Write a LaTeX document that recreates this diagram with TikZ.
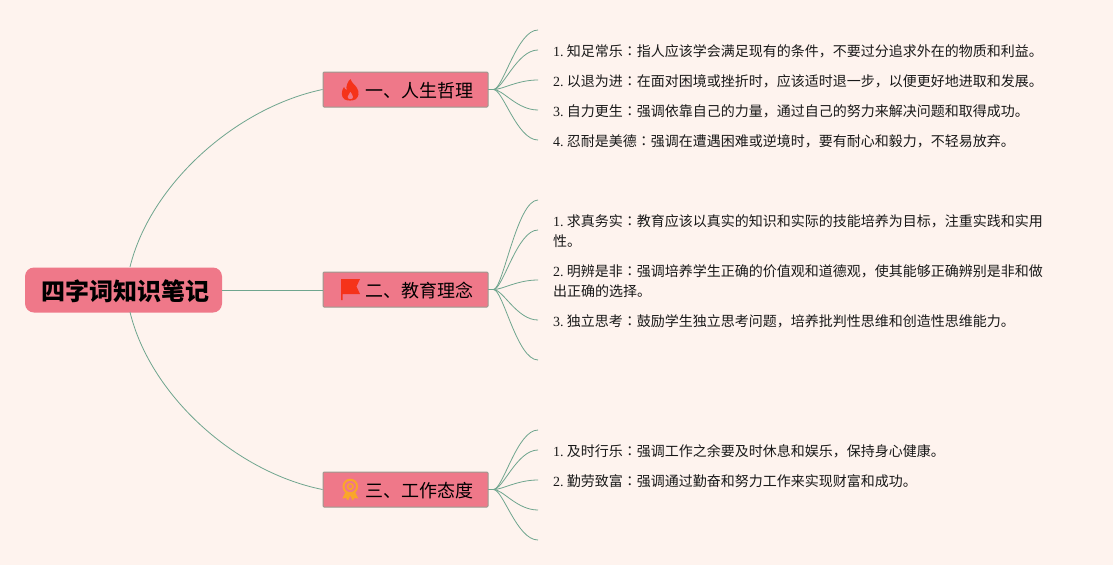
\documentclass[tikz,border=0pt]{standalone}
\usepackage{fontspec}
\setmainfont{Liberation Serif}
\newfontfamily\cjk{Noto Sans CJK SC}
\newfontfamily\cjktc{Noto Sans CJK TC}
\definecolor{bgc}{HTML}{FEF3EE}
\definecolor{pinkc}{HTML}{EF7889}
\definecolor{bordc}{HTML}{9A9A90}
\definecolor{linec}{HTML}{6FA58E}
\definecolor{flamec}{HTML}{F5331A}
\definecolor{medalc}{HTML}{FAA62A}
\newcommand{\lowered}[2]{\raisebox{-#1}[\height][\depth]{#2}}
\newcommand{\lfline}[1]{\lowered{1pt}{#1}}
\newcommand{\lfitem}[3]{\lfline{#1\hspace{3.2pt}{\cjk #2}{\cjktc ：}{\cjk #3}}}
\tikzset{
  rootnode/.style={fill=pinkc,rounded corners=9pt,minimum width=197pt,minimum height=45pt,inner sep=0pt,font=\cjk\fontsize{24}{28}\selectfont\bfseries,text=black},
  topicnode/.style={fill=pinkc,draw=bordc,line width=1pt,rounded corners=1pt,minimum width=165pt,minimum height=35pt,inner ysep=0pt,inner xsep=15pt,font=\cjk\fontsize{18}{22}\selectfont,text=black},
  leafnode/.style={anchor=west,align=left,inner xsep=15pt,inner ysep=0pt,font=\fontsize{14}{20}\selectfont,text=black!90},
  branch/.style={draw=linec,line width=0.8pt},
}
\begin{document}
\begin{tikzpicture}[x=1pt,y=-1pt]
\useasboundingbox (0,0) rectangle (1113,565);
\fill[bgc] (0,0) rectangle (1113,565);
% nodes
\node[rootnode] (root) at (123.5,290) {\lowered{1pt}{\hspace*{3pt}四字词知识笔记}};
\node[topicnode] (t1) at (405.5,89.5) {\lowered{1.5pt}{\hspace*{27pt}一、人生哲理}};
\node[topicnode] (t2) at (405.5,289.5) {\lowered{1.5pt}{\hspace*{27pt}二、教育理念}};
\node[topicnode] (t3) at (405.5,489.5) {\lowered{1.5pt}{\hspace*{27pt}三、工作态度}};
\coordinate (rt) at (130,267);
\coordinate (rb) at (130,312);
% leaves group 1
\coordinate (a0) at (538,30);
\node[leafnode] (a1) at (538,50) {\lfitem{1.}{知足常乐}{指人应该学会满足现有的条件，不要过分追求外在的物质和利益。}};
\node[leafnode] (a2) at (538,80) {\lfitem{2.}{以退为进}{在面对困境或挫折时，应该适时退一步，以便更好地进取和发展。}};
\node[leafnode] (a3) at (538,110) {\lfitem{3.}{自力更生}{强调依靠自己的力量，通过自己的努力来解决问题和取得成功。}};
\node[leafnode] (a4) at (538,140) {\lfitem{4.}{忍耐是美德}{强调在遭遇困难或逆境时，要有耐心和毅力，不轻易放弃。}};
% leaves group 2
\coordinate (b0) at (538,200);
\node[leafnode] (b1) at (538,230) {\lfitem{1.}{求真务实}{教育应该以真实的知识和实际的技能培养为目标，注重实践和实用}\\\lfline{\cjk 性。}};
\node[leafnode] (b2) at (538,280) {\lfitem{2.}{明辨是非}{强调培养学生正确的价值观和道德观，使其能够正确辨别是非和做}\\\lfline{\cjk 出正确的选择。}};
\node[leafnode] (b3) at (538,320) {\lfitem{3.}{独立思考}{鼓励学生独立思考问题，培养批判性思维和创造性思维能力。}};
\coordinate (b4) at (538,360);
% leaves group 3
\coordinate (c0) at (538,430);
\node[leafnode] (c1) at (538,450) {\lfitem{1.}{及时行乐}{强调工作之余要及时休息和娱乐，保持身心健康。}};
\node[leafnode] (c2) at (538,480) {\lfitem{2.}{勤劳致富}{强调通过勤奋和努力工作来实现财富和成功。}};
\coordinate (c3) at (538,510);
\coordinate (c4) at (538,540);
% main connectors
\draw[branch] (rt) .. controls (150,185) and (235,108) .. (t1.west);
\draw[branch] (root.east) -- (root.east -| t2.west);
\draw[branch] (rb) .. controls (150,395) and (235,472) .. (t3.west);
% sub connectors
\foreach \t/\p in {t1/a,t2/b,t3/c}{
  \foreach \e in {0,1,2,3,4}{
    \draw[branch] (\t.east) -- ++(5,0) .. controls (503,0|-\t.east) and (517,0|-\p\e.west) .. (\p\e.west);
  }
}
% flame
\fill[flamec,even odd rule] (350.5,79) .. controls (351.5,83) and (355,84.5) .. (357,88) .. controls (359.5,92) and (359,97) .. (355.5,99.3) .. controls (353,101) and (347,101) .. (344.5,99.3) .. controls (341,97) and (341,91) .. (344,87) .. controls (344.5,88.5) and (345.5,89.5) .. (346.5,90) .. controls (346,86) and (347.5,81.5) .. (350.5,79) -- cycle
(350.5,91.5) .. controls (350,93.5) and (347.5,95) .. (347.5,97) .. controls (347.5,98.5) and (349,99.3) .. (350.3,99.3) .. controls (352,99.3) and (353.2,98.3) .. (353.2,97) .. controls (353.2,95) and (351,93.5) .. (350.5,91.5) -- cycle;
% flag
\fill[flamec] (341,279) -- (360,279) -- (356.5,286.5) -- (360,294) -- (342.5,294) -- (342.5,300) -- (341,300) -- cycle;
% medal
\draw[medalc,line width=2pt] (350.3,486.5) circle (6.8);
\draw[medalc,line width=1.5pt] (350.3,486.5) circle (2.8);
\fill[medalc] (345.5,492) -- (342.3,498.5) -- (346,498) -- (348,500.5) -- (350.3,495.5) -- (352.6,500.5) -- (354.6,498) -- (358.3,498.5) -- (355.1,492) -- cycle;
\end{tikzpicture}
\end{document}
